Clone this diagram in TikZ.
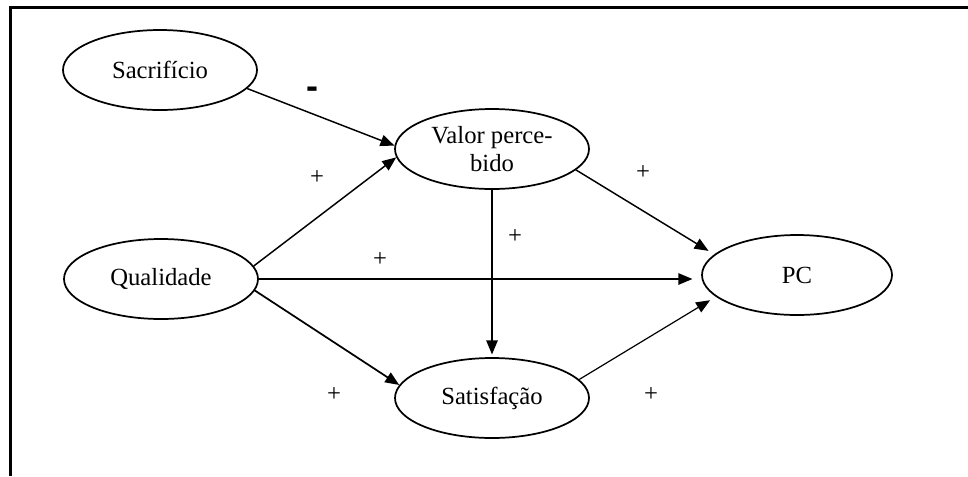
\documentclass[tikz,border=0pt]{standalone}
\usepackage{fontspec}
\setmainfont{Liberation Serif}
\newfontfamily\dashfont{Liberation Sans}
\usetikzlibrary{arrows.meta,shapes.geometric}
\begin{document}
\begin{tikzpicture}[x=0.75pt,y=-0.75pt,
  var/.style={draw, ellipse, line width=1.3pt, minimum width=145.5pt, minimum height=60pt,
              inner sep=0pt, align=center, font=\fontsize{18.5}{21.5}\selectfont},
  arc/.style={-{Triangle[length=10.5pt,width=8.5pt]}, line width=1.1pt},
  lbl/.style={inner sep=0pt, font=\fontsize{18.5}{21.5}\selectfont},
  minus/.style={inner sep=0pt, font=\dashfont\bfseries\fontsize{27}{30}\selectfont}
]
\useasboundingbox (0,0) rectangle (968,476);
\draw[line width=1.9pt] (10.5,476) -- (10.5,7.5) -- (968,7.5);

\node[var] (sac) at (160,70) {Sacrifício};
\node[var] (vp) at (492,149) {Valor perce-\\bido};
\node[var] (q) at (161,279) {Qualidade};
\node[var] (sat) at (492,398) {Satisfação};
\node[var, minimum width=142.5pt] (pc) at (797,275) {PC};

\draw[arc] (sac.-12.5) -- (vp.178);
\draw[arc] (q.8.5) -- (vp.185);
\draw[arc, shorten >=5pt] (vp.-14) -- (pc.166);
\draw[arc, shorten >=2pt] (vp.south) -- (sat.north);
\draw[arc, shorten >=6.5pt] (q.east) -- (q.east -| pc.west);
\draw[arc, line width=1.3pt] (q.-7.7) -- (sat.172);
\draw[arc, line width=0.9pt, shorten >=5pt] (sat.12.6) -- (pc.195);

\node[minus] (m1) at (312,93) {-};
\node[lbl] (p1) at (317,178) {+};
\node[lbl] (p2) at (643,173) {+};
\node[lbl] (p3) at (515,237) {+};
\node[lbl] (p4) at (380,260) {+};
\node[lbl] (p5) at (334,395) {+};
\node[lbl] (p6) at (651,395) {+};
\end{tikzpicture}
\end{document}
